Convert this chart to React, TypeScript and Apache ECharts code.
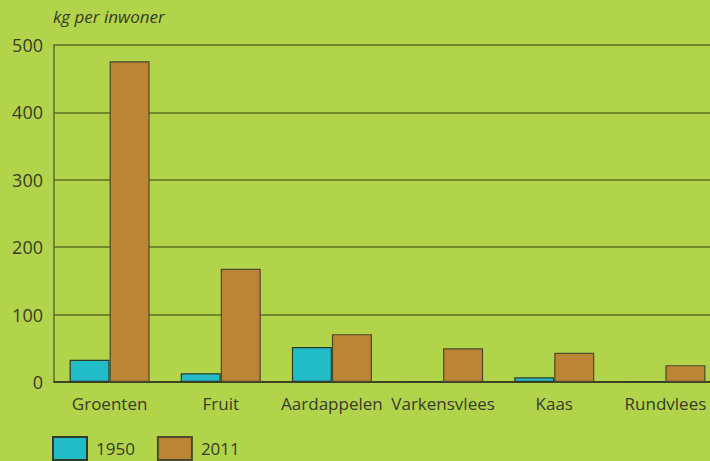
import React, { useEffect, useRef } from "react";
import * as echarts from "echarts";

const categories = ["Groenten", "Fruit", "Aardappelen", "Varkensvlees", "Kaas", "Rundvlees"];
const values1950 = [33, 13, 52, 1.5, 7, 0.8];
const values2011 = [476, 168, 71, 50, 43.5, 25];
const yTicks = [0, 100, 200, 300, 400, 500];

const FONT = "'Open Sans', sans-serif";
const TEXT = "#3a3b2c";
const GRID = "#5e6e2a";

export default function App() {
  const ref = useRef<HTMLDivElement>(null);
  useEffect(() => {
    document.body.style.margin = "0";
    if (!ref.current) return;
    const chart = echarts.init(ref.current, undefined, { renderer: "svg" });
    chart.setOption({
      animation: false,
      backgroundColor: "#b2d44a",
      textStyle: { fontFamily: FONT, color: TEXT },
      title: {
        text: "kg per inwoner",
        left: 48,
        top: 3,
        textStyle: { fontFamily: FONT, fontStyle: "italic", fontWeight: "normal", fontSize: 17, color: TEXT },
      },
      legend: {
        left: 47,
        top: 431,
        itemWidth: 34,
        itemHeight: 23,
        itemGap: 22,
        icon: "rect",
        textStyle: { fontFamily: FONT, fontSize: 17, color: TEXT, padding: [12, 0, 0, 4] },
        data: ["1950", "2011"],
      },
      grid: { left: 54, right: 0, top: 45, bottom: 79, containLabel: false },
      xAxis: {
        type: "category",
        data: categories,
        axisTick: { show: false },
        axisLine: { lineStyle: { color: "#2c2c22", width: 1.5 } },
        axisLabel: { fontFamily: FONT, fontSize: 17, color: TEXT, margin: 13, interval: 0 },
      },
      yAxis: {
        type: "value",
        min: yTicks[0],
        max: yTicks[yTicks.length - 1],
        interval: 100,
        axisLine: { show: true, lineStyle: { color: GRID, width: 1.5 } },
        axisTick: { show: false },
        splitLine: { lineStyle: { color: GRID, width: 1.5 } },
        axisLabel: { fontFamily: FONT, fontSize: 18, color: TEXT, margin: 11 },
      },
      series: [
        {
          name: "1950",
          type: "bar",
          data: values1950,
          barGap: "0%",
          barCategoryGap: "28%",
          itemStyle: { color: "#22bcc8", borderColor: "#2f3a28", borderWidth: 1.2 },
        },
        {
          name: "2011",
          type: "bar",
          data: values2011,
          itemStyle: { color: "#bb8535", borderColor: "#4a4a2c", borderWidth: 1.2 },
        },
      ],
    });
    return () => chart.dispose();
  }, []);
  return (
    <div style={{ width: 710, height: 461, overflow: "hidden", position: "relative" }}>
      <div ref={ref} style={{ width: 721, height: 461 }} />
    </div>
  );
}
